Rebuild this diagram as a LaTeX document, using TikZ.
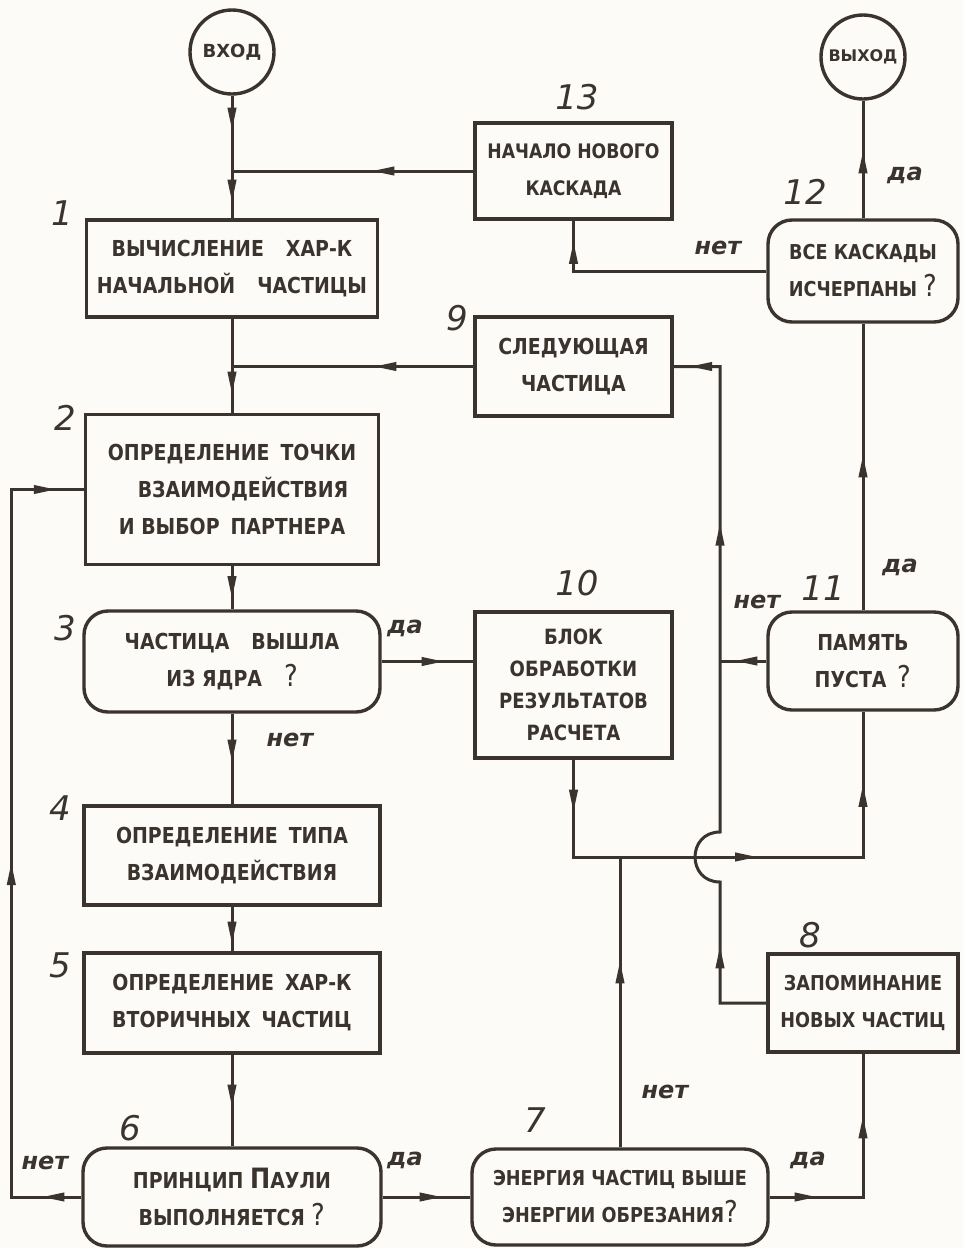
\documentclass[tikz,border=0pt]{standalone}
\usepackage{fontspec}
\setmainfont{DejaVu Sans}
\newfontfamily\boxfont{DejaVu Sans}[FakeStretch=0.86]
\usetikzlibrary{decorations.markings,calc}
\definecolor{ink}{HTML}{3A332E}
\definecolor{paper}{HTML}{FCFBF8}
\newcommand{\bigq}{{\mdseries\fontsize{30}{30}\selectfont ?}}
\newcommand{\bsz}[1]{\boxfont\bfseries\fontsize{#1}{37}\selectfont}
\newcommand{\bszl}[2]{\boxfont\bfseries\fontsize{#1}{#2}\selectfont}
\begin{document}
\begin{tikzpicture}[x=1pt,y=-1pt,
  every node/.style={text=ink},
  box/.style={draw=ink, line width=3.4pt, rectangle, inner sep=0pt, align=center,
    font=\bsz{22}},
  rbox/.style={box, rounded corners=24pt},
  term/.style={draw=ink, line width=3.4pt, circle, minimum size=84pt, inner sep=0pt,
    font=\bfseries\fontsize{18}{18}\selectfont},
  flow/.style={draw=ink, line width=3pt},
  num/.style={font=\itshape\fontsize{34}{34}\selectfont, inner sep=0pt},
  lab/.style={font=\bfseries\itshape\fontsize{24}{24}\selectfont, inner sep=0pt},
  arrowat/.style={postaction={decorate,decoration={markings,
    mark=at position #1 with {\fill[ink] (-20pt,-4.6pt) -- (1.5pt,0pt) -- (-20pt,4.6pt) -- cycle;}}}}
]
\path[fill=paper,use as bounding box] (0,0) rectangle (963,1248);

% terminals
\node[term] (in) at (232,52) {ВХОД};
\node[term, font=\bfseries\fontsize{16}{16}\selectfont] (out) at (863,57) {ВЫХОД};

% boxes
\node[box, minimum width=291pt, minimum height=97pt] (b1) at (232,268.5)
  {ВЫЧИСЛЕНИЕ\quad ХАР-К\\НАЧАЛЬНОЙ\quad ЧАСТИЦЫ};
\node[box, minimum width=197pt, minimum height=96pt, font=\bsz{20}] (b13) at (573.5,171)
  {НАЧАЛО НОВОГО\\КАСКАДА};
\node[rbox, minimum width=190pt, minimum height=102pt, font=\bsz{20.5}] (b12) at (863,271)
  {ВСЕ КАСКАДЫ\\ИСЧЕРПАНЫ \bigq};
\node[box, minimum width=197pt, minimum height=99pt] (b9) at (573.5,366.5)
  {СЛЕДУЮЩАЯ\\ЧАСТИЦА};
\node[box, minimum width=293pt, minimum height=150pt] (b2) at (232,489.5)
  {ОПРЕДЕЛЕНИЕ\enspace ТОЧКИ\\\quad ВЗАИМОДЕЙСТВИЯ\\И ВЫБОР\enspace ПАРТНЕРА};
\node[rbox, minimum width=296pt, minimum height=101pt] (b3) at (232,661.5)
  {ЧАСТИЦА\quad ВЫШЛА\\ИЗ ЯДРА\quad \bigq};
\node[box, minimum width=197pt, minimum height=146pt, font=\bszl{21}{32}] (b10) at (573.5,685)
  {БЛОК\\ОБРАБОТКИ\\РЕЗУЛЬТАТОВ\\РАСЧЕТА};
\node[rbox, minimum width=190pt, minimum height=98pt] (b11) at (863,661)
  {ПАМЯТЬ\\ПУСТА\enspace \bigq};
\node[box, minimum width=296pt, minimum height=99pt] (b4) at (232,855.5)
  {ОПРЕДЕЛЕНИЕ\enspace ТИПА\\ВЗАИМОДЕЙСТВИЯ};
\node[box, minimum width=296pt, minimum height=100pt] (b5) at (232,1003)
  {ОПРЕДЕЛЕНИЕ\enspace ХАР-К\\ВТОРИЧНЫХ\enspace ЧАСТИЦ};
\node[rbox, minimum width=298pt, minimum height=98pt] (b6) at (232,1197)
  {ПРИНЦИП {\fontsize{28}{28}\selectfont П}АУЛИ\\ВЫПОЛНЯЕТСЯ \bigq};
\node[rbox, minimum width=296pt, minimum height=96pt, font=\bsz{20.5}] (b7) at (620,1197)
  {ЭНЕРГИЯ ЧАСТИЦ ВЫШЕ\\ЭНЕРГИИ ОБРЕЗАНИЯ\bigq};
\node[box, minimum width=190pt, minimum height=98pt, font=\bsz{20.5}] (b8) at (863,1003)
  {ЗАПОМИНАНИЕ\\НОВЫХ ЧАСТИЦ};

% numbers
\node[num] (n1) at (62,213) {1};
\node[num] (n13) at (577,97) {13};
\node[num] (n12) at (805,192) {12};
\node[num] (n9) at (457,318) {9};
\node[num] (n2) at (65,418) {2};
\node[num] (n10) at (577,583) {10};
\node[num] (n11) at (823,588) {11};
\node[num] (n3) at (65,628) {3};
\node[num] (n4) at (60,808) {4};
\node[num] (n5) at (60,965) {5};
\node[num] (n8) at (810,935) {8};
\node[num] (n6) at (130,1128) {6};
\node[num] (n7) at (535,1120) {7};

% labels
\node[lab] (l1) at (718,248) {нет};
\node[lab] (l2) at (905,175) {да};
\node[lab] (l3) at (405,628) {да};
\node[lab] (l4) at (290,740) {нет};
\node[lab] (l5) at (757,602) {нет};
\node[lab] (l6) at (900,567) {да};
\node[lab] (l7) at (665,1092) {нет};
\node[lab] (l8) at (45,1163) {нет};
\node[lab] (l9) at (405,1160) {да};
\node[lab] (l10) at (808,1160) {да};

% helper coordinates
\coordinate (j1) at (in.south |- b13.west);
\coordinate (cx) at (720,0);
\coordinate (hz) at (b10.south |- 0,857);
\coordinate (br1) at (720,882);
\coordinate (br2) at (720,832);

% connectors
\draw[flow, arrowat=32pt, arrowat=104pt] (in.south) -- (b1.north);
\draw[flow, arrowat=99pt] (b13.west) -- (j1);
\draw[flow, arrowat=73pt] (b1.south) -- (b2.north);
\draw[flow, arrowat=97pt] (b9.west) -- (b9.west -| b1.south);
\draw[flow, arrowat=30pt] (b2.south) -- (b3.north);
\draw[flow, arrowat=46pt] (b3.south) -- (b4.north);
\draw[flow, arrowat=35pt] (b4.south) -- (b5.north);
\draw[flow, arrowat=50pt] (b5.south) -- (b6.north);
\draw[flow, arrowat=37pt, arrowat=402pt, arrowat=820pt] (b6.west) -- ++(-70,0) |- (b2.west);
\draw[flow, arrowat=57pt] (b6.east) -- (b7.west);
\draw[flow, arrowat=60pt] (b3.east) -- (b3.east -| b10.west);
\draw[flow, arrowat=50pt, arrowat=279pt, arrowat=457pt] (b10.south) -- (hz) -| (b11.south);
\draw[flow, arrowat=153pt] (b11.north) -- (b12.south);
\draw[flow, arrowat=65pt] (b12.north) -- (out.south);
\draw[flow, arrowat=220pt] (b12.west) -| (b13.south);
\draw[flow, arrowat=29pt] (b11.west) -- (b11.west -| cx);
\draw[flow, arrowat=101pt, arrowat=553pt, arrowat=740pt] (b8.west) -- (b8.west -| cx) -- (br1)
  .. controls +(-33.3,0) and +(-33.3,0) .. (br2) -- (b9.east -| cx) -- (b9.east);
\draw[flow, arrowat=184pt] (b7.north) -- (b7.north |- hz);
\draw[flow, arrowat=45pt, arrowat=172pt] (b7.east) -| (b8.south);
\end{tikzpicture}
\end{document}
